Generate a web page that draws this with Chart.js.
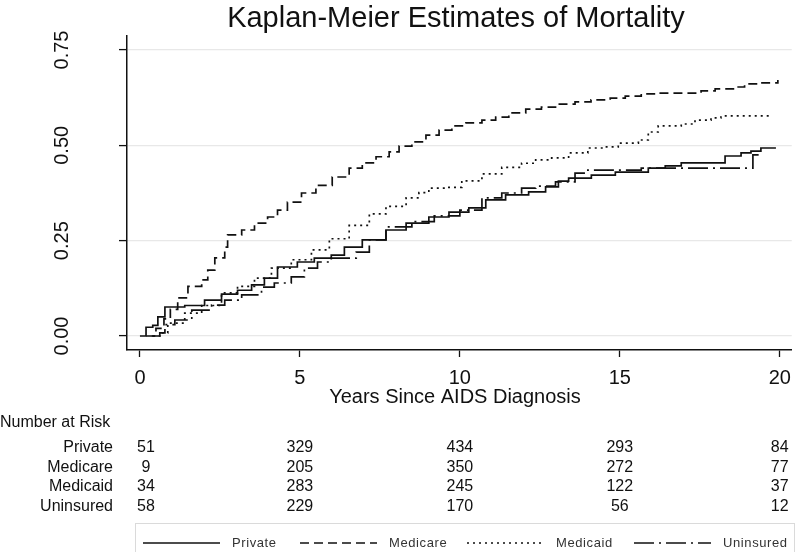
<!DOCTYPE html>
<html>
<head>
<meta charset="utf-8">
<script src="https://cdn.jsdelivr.net/npm/chart.js@4.4.1/dist/chart.umd.min.js"></script>
<style>
  html, body { margin: 0; padding: 0; background: #fff; }
  #wrap { width: 800px; height: 552px; }
</style>
</head>
<body>
<div id="wrap"><canvas id="km" width="800" height="552"></canvas></div>
<script>
// Kaplan-Meier mortality by insurance group

// groups and tick values
const groupNames = ['Private', 'Medicare', 'Medicaid', 'Uninsured'];
const xTicks = [0, 5, 10, 15, 20];
const yTicks = [0, 0.25, 0.5, 0.75];
const riskTimes = [0, 5, 10, 15, 20];

// number at risk per group at riskTimes
const riskPrivate = [51, 329, 434, 293, 84];
const riskMedicare = [9, 205, 350, 272, 77];
const riskMedicaid = [34, 283, 245, 122, 37];
const riskUninsured = [58, 229, 170, 56, 12];

// curves: [years, cumulative mortality]
const privateCurve = [[0, 0], [0.19, 0.023], [0.4, 0.028], [0.56, 0.05], [0.78, 0.076], [1.4, 0.08], [2.02, 0.094],
  [2.55, 0.11], [3.05, 0.12], [3.49, 0.134], [3.89, 0.152], [4.3, 0.181], [4.92, 0.194], [5.45, 0.204], [5.98, 0.212],
  [6.39, 0.233], [6.95, 0.252], [7.69, 0.278], [8.32, 0.296], [9.03, 0.312], [9.66, 0.325], [10.28, 0.336],
  [10.81, 0.357], [11.43, 0.37], [12.15, 0.378], [12.68, 0.391], [13.08, 0.406], [13.4, 0.414], [14.11, 0.422],
  [14.86, 0.43], [15.89, 0.44], [16.42, 0.446], [16.92, 0.454], [18.29, 0.472], [18.79, 0.48], [19.1, 0.485],
  [19.41, 0.493], [19.88, 0.493]];
const medicareCurve = [[0.2, 0], [0.5, 0.02], [0.75, 0.045], [0.95, 0.07], [1.18, 0.1], [1.5, 0.13], [1.93, 0.147],
  [2.12, 0.173], [2.34, 0.205], [2.65, 0.233], [2.74, 0.265], [3.18, 0.278], [3.58, 0.296], [3.99, 0.312], [4.3, 0.33],
  [4.61, 0.351], [5.05, 0.375], [5.5, 0.395], [6.01, 0.417], [6.54, 0.44], [6.95, 0.454], [7.38, 0.47], [7.79, 0.483],
  [8.1, 0.498], [8.5, 0.509], [8.94, 0.527], [9.35, 0.54], [9.75, 0.551], [10.19, 0.559], [10.69, 0.566],
  [11.12, 0.574], [11.53, 0.585], [12.06, 0.595], [12.55, 0.6], [12.99, 0.608], [13.6, 0.614], [14.1, 0.619],
  [14.7, 0.624], [15.17, 0.629], [15.67, 0.635], [16.2, 0.637], [17.54, 0.643], [17.98, 0.648], [18.6, 0.653],
  [18.9, 0.661], [19.3, 0.664], [19.94, 0.671]];
const medicaidCurve = [[0.4, 0], [0.69, 0.008], [0.87, 0.034], [1.4, 0.06], [1.93, 0.08], [2.55, 0.113], [3.05, 0.13],
  [3.58, 0.152], [4.11, 0.178], [4.73, 0.2], [5.36, 0.226], [5.92, 0.255], [6.54, 0.29], [7.17, 0.32], [7.69, 0.34],
  [8.32, 0.362], [8.72, 0.376], [9.03, 0.388], [9.56, 0.39], [10.06, 0.407], [10.69, 0.425], [11.31, 0.442],
  [11.93, 0.453], [12.37, 0.462], [12.87, 0.467], [13.4, 0.48], [14.0, 0.493], [14.5, 0.496], [14.95, 0.506],
  [15.58, 0.514], [15.89, 0.535], [16.2, 0.551], [16.92, 0.556], [17.35, 0.566], [17.85, 0.572], [18.16, 0.577],
  [19.69, 0.577]];
const uninsuredCurve = [[0.37, 0], [0.62, 0.008], [0.78, 0.03], [1.09, 0.042], [1.62, 0.068], [2.24, 0.081],
  [2.65, 0.094], [3.18, 0.108], [3.8, 0.128], [4.2, 0.139], [4.73, 0.155], [5.14, 0.178], [5.55, 0.194], [5.98, 0.204],
  [6.76, 0.22], [7.17, 0.252], [7.69, 0.286], [8.5, 0.3], [9.2, 0.315], [10.0, 0.33], [10.69, 0.362], [11.31, 0.375],
  [11.93, 0.388], [12.37, 0.393], [12.99, 0.404], [13.6, 0.427], [14.0, 0.435], [15.67, 0.44], [19.16, 0.475],
  [19.4, 0.475]];

const curves = [privateCurve, medicareCurve, medicaidCurve, uninsuredCurve];
const riskCounts = [riskPrivate, riskMedicare, riskMedicaid, riskUninsured];

// line styles, Stata-like
const INK = '#111';
const FONT = '"Liberation Sans", Arial, sans-serif';
const dashes = [[], [9, 5], [2, 4], [20, 5, 2, 5]];

const datasets = groupNames.map((name, i) => ({
  label: name,
  data: curves[i].map(p => ({ x: p[0], y: p[1] })),
  borderColor: INK,
  borderWidth: 1.7,
  borderDash: dashes[i],
  stepped: 'before', // horizontal then vertical, like a KM step
  pointRadius: 0,
  fill: false
}));

// title, rotated y labels, x title, risk table and legend
const extras = {
  id: 'extras',
  afterDraw(chart) {
    const ctx = chart.ctx;
    const xs = chart.scales.x, ys = chart.scales.y;
    ctx.save();
    ctx.fillStyle = INK;
    ctx.textBaseline = 'middle';

    ctx.font = `29px ${FONT}`;
    ctx.textAlign = 'center';
    ctx.fillText('Kaplan-Meier Estimates of Mortality', 456, 19);

    ctx.font = `20px ${FONT}`;
    yTicks.forEach(v => {
      ctx.save();
      ctx.translate(62, ys.getPixelForValue(v));
      ctx.rotate(-Math.PI / 2);
      ctx.fillText(v.toFixed(2), 0, 0);
      ctx.restore();
    });
    ctx.fillText('Years Since AIDS Diagnosis', 455, 397);

    ctx.font = `16px ${FONT}`;
    ctx.textAlign = 'left';
    ctx.fillText('Number at Risk', 0, 423);
    groupNames.forEach((name, i) => {
      const y = 448 + i * 19.5;
      ctx.textAlign = 'right';
      ctx.fillText(name, 113, y);
      ctx.textAlign = 'center';
      riskCounts[i].forEach((n, j) => {
        const px = xs.getPixelForValue(riskTimes[j]) + (j === 0 ? 6 : 0);
        ctx.fillText(String(n), px, y);
      });
    });

    // legend box
    ctx.strokeStyle = '#dadada';
    ctx.lineWidth = 1;
    ctx.strokeRect(135.5, 523.5, 659, 40);
    const slots = [143, 300, 467, 634];
    ctx.font = `13px ${FONT}`;
    ctx.letterSpacing = '0.6px';
    ctx.textAlign = 'left';
    ctx.fillStyle = '#333';
    slots.forEach((x0, i) => {
      ctx.beginPath();
      ctx.setLineDash(dashes[i]);
      ctx.strokeStyle = INK;
      ctx.lineWidth = 1.6;
      ctx.moveTo(x0, 543);
      ctx.lineTo(x0 + 77, 543);
      ctx.stroke();
      ctx.setLineDash([]);
      ctx.fillText(groupNames[i], x0 + 89, 543);
    });
    ctx.restore();
  }
};

new Chart(document.getElementById('km'), {
  type: 'line',
  data: { datasets },
  options: {
    responsive: false,
    animation: false,
    devicePixelRatio: 1,
    layout: { padding: { left: 117, right: 6, top: 36, bottom: 0 } },
    plugins: { legend: { display: false }, tooltip: { enabled: false }, title: { display: false } },
    scales: {
      x: {
        type: 'linear',
        min: -0.405,
        max: 20.374,
        afterBuildTicks: s => { s.ticks = xTicks.map(v => ({ value: v })); },
        afterFit: s => { s.height = 202; },
        grid: { drawOnChartArea: false, tickLength: 7, tickColor: INK, tickWidth: 1.3 },
        border: { color: INK, width: 1.5 },
        ticks: { color: INK, font: { family: FONT, size: 20 }, padding: 9, maxRotation: 0, autoSkip: false }
      },
      y: {
        type: 'linear',
        min: -0.0367,
        max: 0.7867,
        afterBuildTicks: s => { s.ticks = yTicks.map(v => ({ value: v })); },
        afterFit: s => { s.width = 10; },
        grid: { color: '#e8e8e8', lineWidth: 1.2, tickLength: 8, tickColor: INK, tickWidth: 1.3 },
        border: { color: INK, width: 1.5 },
        ticks: { display: false }
      }
    }
  },
  plugins: [extras]
});
</script>
</body>
</html>
